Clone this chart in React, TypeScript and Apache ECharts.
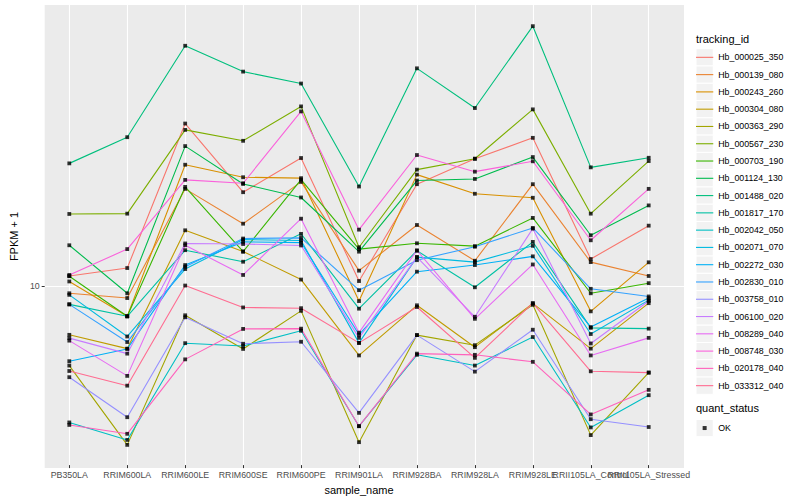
import React, { useEffect, useRef } from "react";
import * as echarts from "echarts";

const samples = [
  "PB350LA", "RRIM600LA", "RRIM600LE", "RRIM600SE", "RRIM600PE", "RRIM901LA",
  "RRIM928BA", "RRIM928LA", "RRIM928LE", "RRII105LA_Control", "RRII105LA_Stressed",
];

const trackingIds = [
  "Hb_000025_350", "Hb_000139_080", "Hb_000243_260", "Hb_000304_080", "Hb_000363_290",
  "Hb_000567_230", "Hb_000703_190", "Hb_001124_130", "Hb_001488_020", "Hb_001817_170",
  "Hb_002042_050", "Hb_002071_070", "Hb_002272_030", "Hb_002830_010", "Hb_003758_010",
  "Hb_006100_020", "Hb_008289_040", "Hb_008748_030", "Hb_020178_040", "Hb_033312_040",
];

const colors = [
  "#F8766D", "#EA8331", "#D89000", "#C09B00", "#A3A500",
  "#7CAE00", "#39B600", "#00BB4E", "#00BF7D", "#00C1A3",
  "#00BFC4", "#00BAE0", "#00B0F6", "#35A2FF", "#9590FF",
  "#C77CFF", "#E76BF3", "#FA62DB", "#FF62BC", "#FF6C91",
];

// FPKM + 1 per sample (order of `samples`)
const hb_000025_350 = [10.39, 10.78, 21.06, 15.32, 17.95, 10.15, 15.9, 17.89, 19.71, 11.24, 13.12];
const hb_000139_080 = [9.59, 9.38, 15.56, 13.24, 16.07, 10.65, 13.16, 11.15, 15.9, 11.08, 10.39];
const hb_000243_260 = [10.13, 8.62, 17.4, 16.42, 16.35, 9.25, 16.62, 15.21, 14.93, 8.82, 11.07];
const hb_000304_080 = [7.91, 7.42, 12.84, 11.64, 10.22, 7.19, 9.07, 7.47, 9.15, 7.42, 9.16];
const hb_000363_290 = [6.86, 4.75, 8.66, 7.41, 8.84, 4.81, 7.9, 7.54, 9.09, 4.97, 6.64];
const hb_000567_230 = [13.85, 13.87, 20.45, 19.44, 22.8, 11.87, 17.01, 17.89, 22.49, 13.87, 17.7];
const hb_000703_190 = [10.38, 8.62, 15.7, 11.63, 16.24, 11.77, 12.09, 11.93, 13.6, 9.59, 10.05];
const hb_001124_130 = [11.98, 9.59, 18.97, 15.92, 14.95, 11.63, 16.17, 16.29, 18.03, 12.55, 14.41];
const hb_001488_020 = [17.51, 19.77, 30.2, 26.79, 25.35, 15.73, 27.2, 22.63, 33.07, 17.19, 17.97];
const hb_001817_170 = [9.11, 8.62, 11.71, 11.1, 12.63, 8.93, 11.68, 9.86, 12.17, 8.17, 8.14];
const hb_002042_050 = [5.27, 4.86, 7.61, 7.51, 8.06, 5.18, 7.21, 6.86, 7.83, 5.15, 5.98];
const hb_002071_070 = [9.52, 7.85, 10.73, 12.3, 12.25, 7.62, 11.34, 11.08, 11.95, 7.94, 9.29];
const hb_002272_030 = [7.0, 7.41, 10.93, 12.17, 12.13, 7.92, 10.6, 10.93, 11.38, 8.2, 9.38];
const hb_002830_010 = [9.11, 7.65, 10.85, 12.36, 12.4, 9.73, 11.18, 11.9, 12.98, 9.79, 9.45];
const hb_003758_010 = [6.5, 5.4, 8.58, 7.59, 7.66, 5.51, 7.9, 6.67, 8.1, 5.35, 5.16];
const hb_006100_020 = [7.79, 7.25, 12.08, 12.05, 11.97, 7.8, 11.34, 8.6, 12.94, 7.6, 9.25];
const hb_008289_040 = [7.7, 6.54, 11.98, 10.44, 13.55, 7.99, 11.7, 8.52, 10.96, 7.19, 7.8];
const hb_008748_030 = [10.44, 11.77, 16.22, 15.97, 22.28, 12.88, 18.2, 16.85, 17.68, 12.26, 15.56];
const hb_020178_040 = [5.21, 5.0, 7.06, 8.13, 8.14, 5.18, 7.25, 7.21, 6.98, 5.47, 6.13];
const hb_033312_040 = [6.69, 6.25, 9.94, 8.98, 8.95, 7.62, 9.0, 7.11, 9.16, 6.68, 6.64];

const seriesValues = [
  hb_000025_350, hb_000139_080, hb_000243_260, hb_000304_080, hb_000363_290,
  hb_000567_230, hb_000703_190, hb_001124_130, hb_001488_020, hb_001817_170,
  hb_002042_050, hb_002071_070, hb_002272_030, hb_002830_010, hb_003758_010,
  hb_006100_020, hb_008289_040, hb_008748_030, hb_020178_040, hb_033312_040,
];

const yTicks = [10];
const yMin = 4.325;
const yMax = 36.48;
const statusNames = ["OK"];

const FONT = "'Liberation Sans', Arial, Helvetica, sans-serif";

export default function App() {
  const ref = useRef<HTMLDivElement>(null);

  useEffect(() => {
    if (!ref.current) return;
    const chart = echarts.init(ref.current, undefined, { renderer: "svg" });

    const keyX = 696;
    const keyTop = 48.7;
    const keySize = 17.28;
    const okTop = 419.4;

    const lineSeries = trackingIds.map((id, i) => ({
      type: "line",
      name: id,
      xAxisIndex: 1,
      yAxisIndex: 1,
      data: seriesValues[i],
      color: colors[i],
      symbol: "none",
      lineStyle: { width: 1.1, color: colors[i] },
      silent: true,
      z: 2,
    }));

    const points: any[] = [];
    seriesValues.forEach((vals) => vals.forEach((v, i) => points.push([i, v])));

    const keyRects: any[] = trackingIds.map((_, i) => ({
      type: "rect",
      z: 1,
      shape: { x: keyX, y: keyTop + keySize * i, width: keySize, height: keySize },
      style: { fill: "#F2F2F2", stroke: "#FFFFFF", lineWidth: 1 },
    }));
    keyRects.push({
      type: "rect",
      z: 1,
      shape: { x: keyX, y: okTop, width: keySize, height: keySize },
      style: { fill: "#F2F2F2", stroke: "#FFFFFF", lineWidth: 1 },
    });

    const option: any = {
      animation: false,
      backgroundColor: "#FFFFFF",
      textStyle: { fontFamily: FONT },
      title: [
        {
          text: "tracking_id", left: keyX, top: 33.5, padding: 0,
          textStyle: { fontSize: 11, fontWeight: "normal", color: "#000", fontFamily: FONT },
        },
        {
          text: "quant_status", left: keyX, top: 402.5, padding: 0,
          textStyle: { fontSize: 11, fontWeight: "normal", color: "#000", fontFamily: FONT },
        },
      ],
      grid: [
        { left: 35, right: 116, top: 5, bottom: 32, show: true, backgroundColor: "#EBEBEB", borderWidth: 0 },
        { left: 69.3, right: 151.3, top: 5, bottom: 32, show: false },
      ],
      xAxis: [
        { gridIndex: 0, type: "value", min: 0, max: 1, show: false },
        {
          gridIndex: 1, type: "category", data: samples, boundaryGap: false,
          axisLine: { show: false },
          axisTick: { show: true, interval: 0, length: 3, lineStyle: { color: "#333333", width: 1 } },
          axisLabel: { interval: 0, margin: 5, fontSize: 8.8, color: "#4D4D4D", fontFamily: FONT },
          splitLine: { show: true, interval: 0, lineStyle: { color: "#FFFFFF", width: 1.1 } },
          name: "sample_name", nameLocation: "middle", nameGap: 15,
          nameTextStyle: { fontSize: 11, color: "#000", fontFamily: FONT },
        },
      ],
      yAxis: [
        {
          gridIndex: 0, type: "log", logBase: 10, min: yMin, max: yMax,
          axisLine: { show: false },
          axisTick: { show: true, length: 3, customValues: yTicks, lineStyle: { color: "#333333", width: 1 } },
          axisLabel: { customValues: yTicks, margin: 5, fontSize: 8.8, color: "#4D4D4D", fontFamily: FONT },
          splitLine: { show: true, lineStyle: { color: "#FFFFFF", width: 1.1 } },
          minorSplitLine: { show: false },
          name: "FPKM + 1", nameLocation: "middle", nameGap: 20, nameRotate: 90,
          nameTextStyle: { fontSize: 11, color: "#000", fontFamily: FONT },
        },
        { gridIndex: 1, type: "log", logBase: 10, min: yMin, max: yMax, show: false },
      ],
      legend: [
        {
          orient: "vertical", left: keyX, top: keyTop, padding: 0, itemGap: 0,
          itemWidth: keySize, itemHeight: 1.1, icon: "rect", selectedMode: false,
          itemStyle: { borderWidth: 0 },
          textStyle: { fontSize: 8.8, lineHeight: keySize, color: "#000", fontFamily: FONT },
          data: trackingIds.map((n, i) => ({ name: n, itemStyle: { color: colors[i] } })),
        },
        {
          orient: "vertical", left: keyX + keySize / 2 - 2, top: okTop, padding: 0, itemGap: 0,
          itemWidth: 4, itemHeight: 4, icon: "rect", selectedMode: false,
          itemStyle: { borderWidth: 0 },
          textStyle: { fontSize: 8.8, lineHeight: keySize, color: "#000", fontFamily: FONT, padding: [0, 0, 0, keySize / 2 - 2] },
          data: statusNames.map((n) => ({ name: n, itemStyle: { color: "#000" } })),
        },
      ],
      graphic: { elements: keyRects },
      series: [
        ...lineSeries,
        {
          type: "scatter",
          name: statusNames[0],
          xAxisIndex: 1,
          yAxisIndex: 1,
          symbol: "rect",
          symbolSize: 3.8,
          itemStyle: { color: "#000000" },
          data: points,
          silent: true,
          z: 3,
        },
      ],
    };

    chart.setOption(option);
    return () => chart.dispose();
  }, []);

  return (
    <div
      ref={ref}
      style={{ position: "absolute", left: 0, top: 0, width: 800, height: 500 }}
    />
  );
}
